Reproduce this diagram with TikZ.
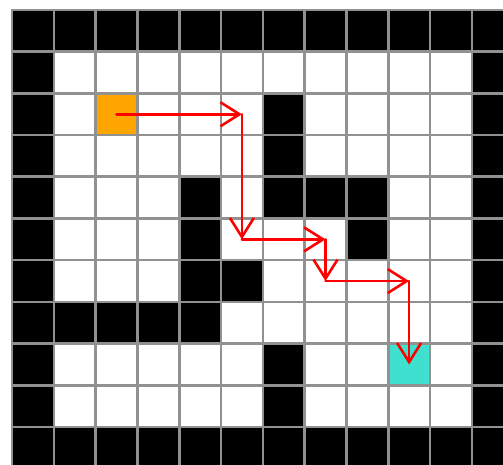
\documentclass[tikz,border=0pt]{standalone}
\usetikzlibrary{arrows.meta}
\definecolor{c0}{RGB}{255,255,255}
\definecolor{c1}{RGB}{0,0,0}
\definecolor{c2}{RGB}{255,165,0}
\definecolor{c3}{RGB}{64,224,208}
\definecolor{gridgray}{RGB}{145,145,145}
\tikzset{
  cell/.style={draw=gridgray, line width=2.6pt, minimum size=41.8pt, inner sep=0pt, outer sep=0pt},
  route/.style={draw=red, line width=2.6pt, line cap=round, -{Straight Barb[length=19pt,width=24pt,line width=2.6pt]}}
}
\begin{document}
\begin{tikzpicture}[x=1pt,y=-1pt]
\useasboundingbox (0,0) rectangle (503,464);
\clip (0,0) rectangle (503,464);
\foreach \row [count=\r from 0] in {
  {1,1,1,1,1,1,1,1,1,1,1,1},
  {1,0,0,0,0,0,0,0,0,0,0,1},
  {1,0,2,0,0,0,1,0,0,0,0,1},
  {1,0,0,0,0,0,1,0,0,0,0,1},
  {1,0,0,0,1,0,1,1,1,0,0,1},
  {1,0,0,0,1,0,0,0,1,0,0,1},
  {1,0,0,0,1,1,0,0,0,0,0,1},
  {1,1,1,1,1,0,0,0,0,0,0,1},
  {1,0,0,0,0,0,1,0,0,3,0,1},
  {1,0,0,0,0,0,1,0,0,0,0,1},
  {1,1,1,1,1,1,1,1,1,1,1,1}}{
  \foreach \v [count=\c from 0] in \row {
    \node[cell, fill=c\v] (c-\c-\r) at ({12+(\c+0.5)*41.8},{10+(\r+0.5)*41.7}) {};
  }
}
\draw[route] (c-2-2.center) -- (c-5-2.center);
\draw[route] (c-5-2.center) -- (c-5-5.center);
\draw[route] (c-5-5.center) -- (c-7-5.center);
\draw[route] (c-7-5.center) -- (c-7-6.center);
\draw[route] (c-7-6.center) -- (c-9-6.center);
\draw[route] (c-9-6.center) -- (c-9-8.center);
\end{tikzpicture}
\end{document}
